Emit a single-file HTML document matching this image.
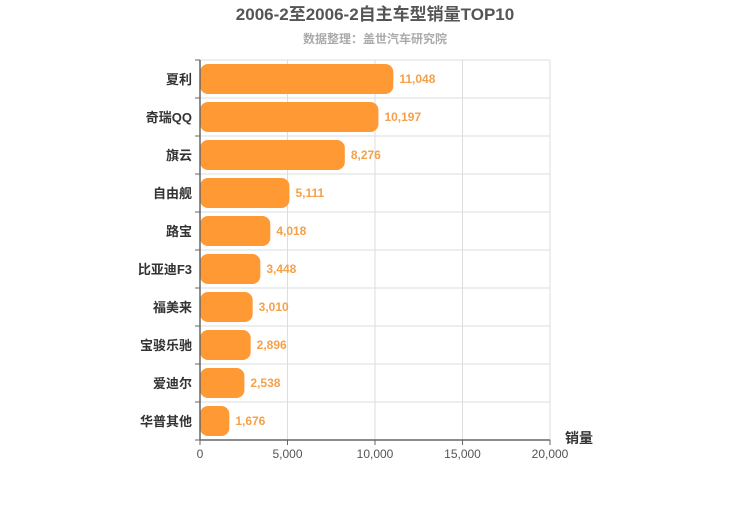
<!DOCTYPE html>
<html><head><meta charset="utf-8"><style>
body{margin:0;background:#fff;font-family:"Liberation Sans","Noto Sans CJK SC",sans-serif}
</style></head><body>
<svg id="chart" width="750" height="500" xmlns="http://www.w3.org/2000/svg" font-family="Liberation Sans, Noto Sans CJK SC, sans-serif">
<text x="375" y="20" text-anchor="middle" font-size="17" font-weight="bold" fill="#555">2006-2至2006-2自主车型销量TOP10</text>
<text x="375" y="43" text-anchor="middle" font-size="12" font-weight="bold" fill="#aaa">数据整理：盖世汽车研究院</text>
<g id="grid"></g><g id="bars"></g><g id="axes"></g>
<text x="565" y="443" font-size="14" font-weight="bold" fill="#333">销量</text>
</svg>
<script>
const categories=["夏利","奇瑞QQ","旗云","自由舰","路宝","比亚迪F3","福美来","宝骏乐驰","爱迪尔","华普其他"];
const values=[11048,10197,8276,5111,4018,3448,3010,2896,2538,1676];
const ticks=[0,5000,10000,15000,20000];
const NS="http://www.w3.org/2000/svg";
const L=200,R=550,T=60,B=440,max=20000;
const x=v=>L+(R-L)*v/max;
const rowH=(B-T)/categories.length;
const y=i=>T+i*rowH;
function mk(tag,attrs,parent,text){const e=document.createElementNS(NS,tag);for(const k in attrs)e.setAttribute(k,attrs[k]);if(text!==undefined)e.textContent=text;document.getElementById(parent).appendChild(e);return e;}
ticks.forEach(t=>{
 const g=mk('line',{x1:x(t),x2:x(t),y1:T,y2:B,stroke:'#ddd'},'grid');
 
 
 const lb=mk('text',{x:x(t),y:B+18,'text-anchor':'middle','font-size':12,fill:'#555'},'axes',t.toLocaleString('en-US'));
 
 
 const tk=mk('line',{x1:x(t),x2:x(t),y1:B,y2:B+5,stroke:'#666'},'axes');
 
 
});
for(let i=0;i<=categories.length;i++){
 const g=mk('line',{x1:L,x2:R,y1:y(i),y2:y(i),stroke:'#ddd'},'grid');
 
 
 const tk=mk('line',{x1:L-5,x2:L,y1:y(i),y2:y(i),stroke:'#666'},'axes');
 
 
}
categories.forEach((c,i)=>{
 const b=mk('rect',{x:L,y:y(i)+4,width:x(values[i])-L,height:rowH-8,rx:8,fill:'#ff9933'},'bars');
 
 
 const v=mk('text',{x:x(values[i])+6,y:y(i)+rowH/2+4,'font-size':12,'font-weight':'bold',fill:'#f5a04a'},'bars',values[i].toLocaleString('en-US'));
 
 
 const l=mk('text',{x:L-8,y:y(i)+rowH/2+5,'text-anchor':'end','font-size':13,'font-weight':'bold',fill:'#333'},'axes',c);
 
 
});
const ya=mk('line',{x1:L,x2:L,y1:T,y2:B,stroke:'#666','stroke-width':1.5},'axes');


const xa=mk('line',{x1:L,x2:R,y1:B,y2:B,stroke:'#666','stroke-width':1.5},'axes');


</script>
</body></html>
